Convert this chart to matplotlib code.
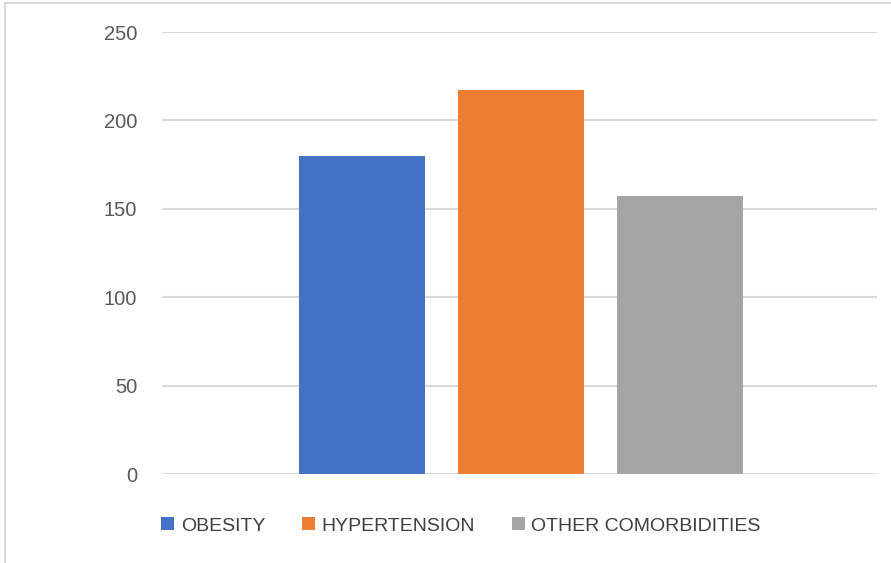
import matplotlib
matplotlib.use("Agg")
import matplotlib.pyplot as plt
from matplotlib.patches import Patch
from matplotlib.lines import Line2D

series = ["OBESITY", "HYPERTENSION", "OTHER COMORBIDITIES"]
values = [180, 217, 157]
colors = ["#4472C4", "#ED7D31", "#A5A5A5"]
yticks = [0, 50, 100, 150, 200, 250]

plt.rcParams['font.family'] = ['Liberation Sans', 'DejaVu Sans']

W, H = 891, 563
fig = plt.figure(figsize=(W/100, H/100), dpi=100)
ax = fig.add_axes([162/W, 1-474/H, (877-162)/W, (474-32)/H])

bw = 126/715
step = 159/715
for i, (v, c) in enumerate(zip(values, colors)):
    ax.bar((i-1)*step + 0.0015, v, width=bw, color=c, zorder=3)

ax.set_xlim(-0.5, 0.5)
ax.set_ylim(0, 250)
ax.set_yticks(yticks)
ax.set_yticklabels([str(t) for t in yticks], fontsize=14.5, color="#595959")
ax.set_xticks([])
ax.tick_params(axis='y', length=0, pad=18)
ax.grid(axis='y', color="#D9D9D9", linewidth=1.5, zorder=0)
for s in ax.spines.values():
    s.set_visible(False)

handles = [Patch(facecolor=c, edgecolor='none') for c in colors]
leg = fig.legend(handles, series, loc='center', bbox_to_anchor=(461/W, 1-526/H),
                 ncol=3, frameon=False, fontsize=14, handlelength=0.65, handleheight=0.65,
                 handletextpad=0.35, columnspacing=1.9, labelcolor="#404040")

# figure border
fig.add_artist(Line2D([5/W, 5/W], [0, 1-3/H], color="#D9D9D9", linewidth=1.5))
fig.add_artist(Line2D([5/W, 1], [1-3/H, 1-3/H], color="#D9D9D9", linewidth=1.5))

fig.savefig("out.png", dpi=100)
